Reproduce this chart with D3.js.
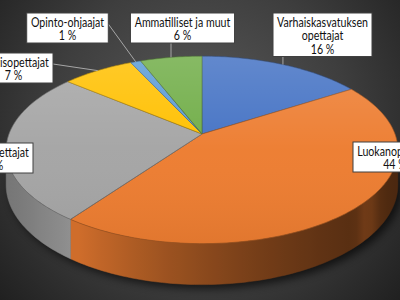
<!DOCTYPE html>
<html>
<head>
<meta charset="utf-8">
<script src="https://cdn.jsdelivr.net/npm/d3@7"></script>
<style>
  html, body { margin: 0; padding: 0; background: #2a2a2a; }
  svg { display: block; }
</style>
</head>
<body>
<div id="chart"></div>
<script>
// data
var categories = ["Varhaiskasvatuksen opettajat", "Luokanopettajat", "Aineenopettajat",
                  "Erityisopettajat", "Opinto-ohjaajat", "Ammatilliset ja muut"];
var values = [16, 44, 26, 7, 1, 6];
var colors = ["#4472c4", "#ed7d31", "#a5a5a5", "#ffc000", "#5b9bd5", "#70ad47"];
var labelLines = [["Varhaiskasvatuksen", "opettajat"], ["Luokanopettajat"], ["Aineenopettajat"],
                  ["Erityisopettajat"], ["Opinto-ohjaajat"], ["Ammatilliset ja muut"]];

// where each label box sits: x is the centre, or the left / right edge
var labelLayout = [
  { x: 322.5, anchor: "middle", top: 13, leader: true },
  { x: 353, anchor: "left", top: 142, leader: false },
  { x: 33, anchor: "right", top: 143, leader: false },
  { x: 53, anchor: "right", top: 53, leader: true },
  { x: 67.5, anchor: "middle", top: 13, leader: true },
  { x: 182.5, anchor: "middle", top: 13, leader: true }
];

var width = 400, height = 300;
var CX = 202, CY = 134, RX = 193, A = 91, P = 0.17, H = 34;

function project(theta, down) {
  var c = Math.cos(theta), s = Math.sin(theta);
  var k = 1 / (1 + P * c);
  return [CX + RX * s * k, CY - A * c * k + (down || 0) * k];
}

function rim(a0, a1, down) {
  var n = Math.max(2, Math.ceil((a1 - a0) / 0.02));
  var pts = [];
  for (var i = 0; i <= n; i++) pts.push(project(a0 + (a1 - a0) * i / n, down));
  return pts;
}

var svg = d3.select("#chart").append("svg")
  .attr("width", width).attr("height", height);

var defs = svg.append("defs");

var bg = defs.append("radialGradient").attr("id", "bg")
  .attr("gradientUnits", "userSpaceOnUse")
  .attr("cx", 200).attr("cy", 125).attr("r", 270);
bg.append("stop").attr("offset", 0).attr("stop-color", "#5a5a5a");
bg.append("stop").attr("offset", 0.55).attr("stop-color", "#3e3e3e");
bg.append("stop").attr("offset", 1).attr("stop-color", "#1f1f1f");

defs.append("filter").attr("id", "blur")
  .attr("x", "-20%").attr("y", "-20%").attr("width", "140%").attr("height", "140%")
  .append("feGaussianBlur").attr("stdDeviation", 4);

var shine = defs.append("linearGradient").attr("id", "shine")
  .attr("x1", 0).attr("y1", 0).attr("x2", 0).attr("y2", 1);
shine.append("stop").attr("offset", 0).attr("stop-color", "#fff").attr("stop-opacity", 0.16);
shine.append("stop").attr("offset", 0.5).attr("stop-color", "#fff").attr("stop-opacity", 0.02);
shine.append("stop").attr("offset", 1).attr("stop-color", "#000").attr("stop-opacity", 0.05);

svg.append("rect").attr("width", width).attr("height", height).attr("fill", "url(#bg)");

var pie = d3.pie().sort(null).value(function (d) { return d; });
var arcs = pie(values);
var line = d3.line();

// soft shadow under the pie
var full = rim(0, 2 * Math.PI, H);
svg.append("path")
  .attr("d", line(full) + "Z")
  .attr("transform", "translate(4,4)")
  .attr("fill", "#000").attr("opacity", 0.65)
  .attr("filter", "url(#blur)");

// side walls, only the front half shows
var lo = Math.acos(-P), hi = 2 * Math.PI - lo;
var sideShade = function (t) {
  var k = 0.35 + 3.4 * Math.abs(t - 0.17);
  k -= 0.9 * Math.exp(-Math.pow((t - 0.93) / 0.025, 2));
  return k;
};

arcs.forEach(function (d, i) {
  var a0 = Math.max(d.startAngle, lo), a1 = Math.min(d.endAngle, hi);
  if (a1 <= a0) return;
  var g = defs.append("linearGradient").attr("id", "side" + i)
    .attr("gradientUnits", "userSpaceOnUse")
    .attr("x1", CX - RX).attr("x2", CX + RX).attr("y1", 0).attr("y2", 0);
  d3.range(0, 1.0001, 0.02).forEach(function (t) {
    g.append("stop").attr("offset", t)
      .attr("stop-color", d3.color(colors[i]).darker(sideShade(t)).formatHex());
  });
  var pts = rim(a0, a1, 0).concat(rim(a0, a1, H).reverse());
  svg.append("path")
    .attr("d", line(pts) + "Z")
    .attr("fill", "url(#side" + i + ")")
    .attr("stroke", "url(#side" + i + ")")
    .attr("stroke-width", 0.5);
});

// top faces
arcs.forEach(function (d, i) {
  var pts = [[CX, CY]].concat(rim(d.startAngle, d.endAngle, 0));
  svg.append("path")
    .attr("d", line(pts) + "Z")
    .attr("fill", colors[i])
    .attr("stroke", d3.color(colors[i]).darker(1.2).formatHex())
    .attr("stroke-width", 0.7)
    .attr("stroke-linejoin", "round");
});

svg.append("path")
  .attr("d", line(rim(0, 2 * Math.PI, 0)) + "Z")
  .attr("fill", "url(#shine)");

// labels (Calibri is narrow, so the text is squeezed a little)
var font = "Lato, 'Open Sans', sans-serif";
var lineH = 13.5;
var squeeze = 0.85;

arcs.forEach(function (d, i) {
  var lay = labelLayout[i];
  var lines = labelLines[i].concat([values[i] + " %"]);
  var g = svg.append("g");
  var box = g.append("rect");
  var txt = g.append("text")
    .attr("font-family", font).attr("font-size", 12.5)
    .attr("fill", "#111").attr("text-anchor", "middle");
  lines.forEach(function (l, j) {
    txt.append("tspan").attr("x", 0).attr("y", lay.top + 14 + j * lineH).text(l);
  });
  var w = txt.node().getBBox().width * squeeze + 8;
  var h = lines.length * lineH + 3;
  var cx = lay.anchor === "left" ? lay.x + w / 2 : lay.anchor === "right" ? lay.x - w / 2 : lay.x;
  txt.attr("transform", "translate(" + cx + ",0) scale(" + squeeze + ",1)");
  var bx = cx - w / 2;
  box.attr("x", bx).attr("y", lay.top).attr("width", w).attr("height", h)
    .attr("fill", "#fff").attr("stroke", "#404040").attr("stroke-width", 1);

  if (lay.leader) {
    var mid = (d.startAngle + d.endAngle) / 2;
    var p = project(mid, 0);
    var from;
    if (p[0] > bx + 4 && p[0] < bx + w - 4) from = [p[0], lay.top + h];
    else if (p[0] >= bx + w) from = [bx + w, lay.top + 11];
    else from = [bx, lay.top + 11];
    svg.insert("path", "g")
      .attr("d", line([from, p]))
      .attr("stroke", "#a6a6a6").attr("stroke-width", 1).attr("fill", "none");
  }
});
</script>
</body>
</html>
